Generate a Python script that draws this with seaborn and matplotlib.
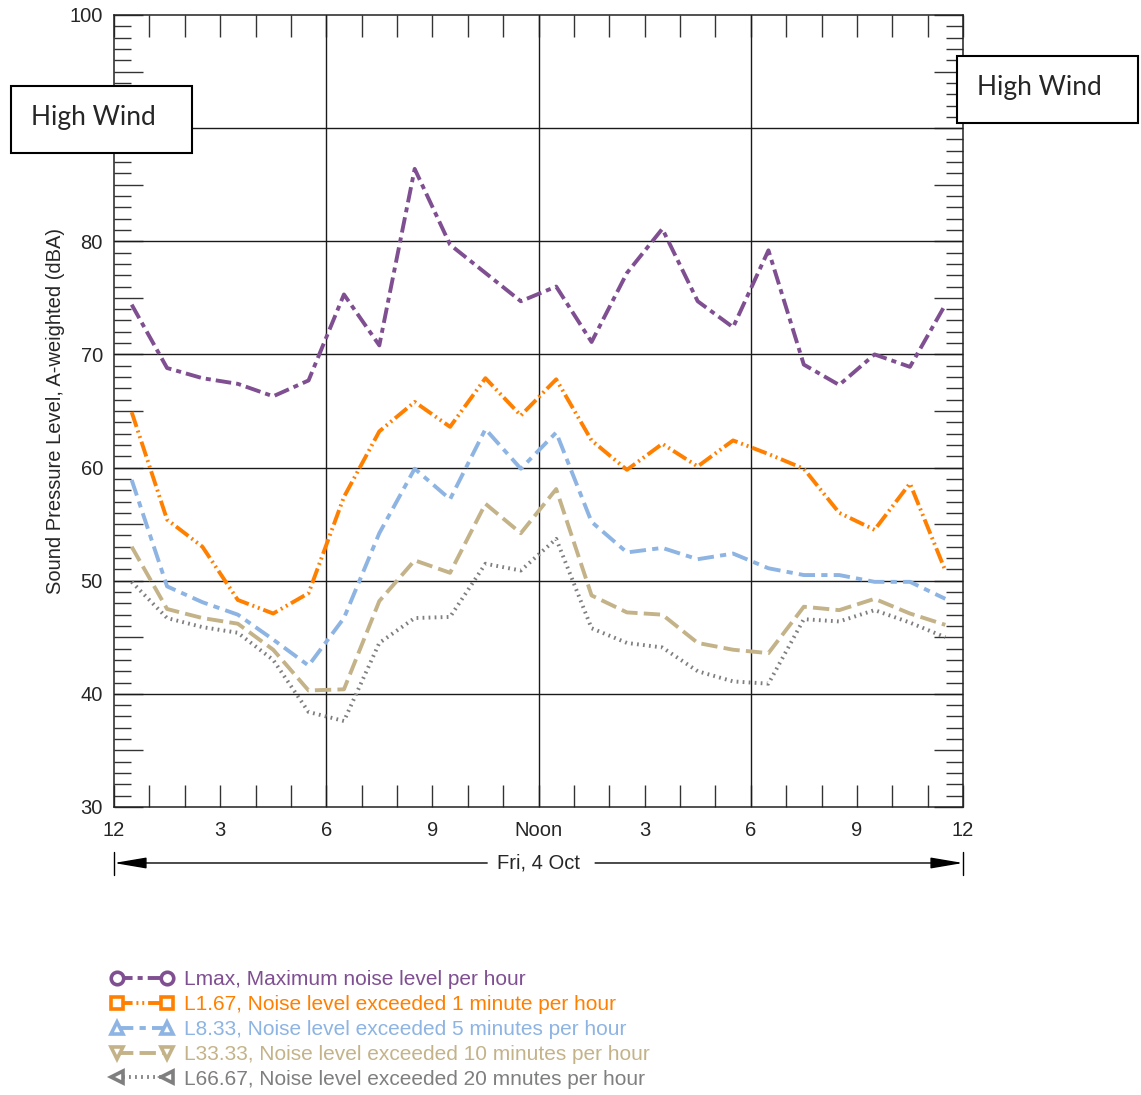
import numpy as np
import pandas as pd
import matplotlib
matplotlib.use("Agg")
import matplotlib.pyplot as plt
import matplotlib.transforms as mtransforms
from matplotlib.lines import Line2D
from matplotlib.patches import Rectangle
from matplotlib.ticker import FixedLocator, MultipleLocator, FuncFormatter
import seaborn as sns

# ---------------- data ----------------
hours = [0.5, 1.5, 2.5, 3.5, 4.5, 5.5, 6.5, 7.5, 8.5, 9.5, 10.5, 11.5,
         12.5, 13.5, 14.5, 15.5, 16.5, 17.5, 18.5, 19.5, 20.5, 21.5, 22.5, 23.5]

lmax = [74.4, 68.8, 67.9, 67.4, 66.3, 67.7, 75.3, 70.8, 86.4, 79.7, 77.2, 74.7,
        76.0, 71.1, 77.2, 81.1, 74.7, 72.4, 79.2, 69.1, 67.3, 70.0, 68.9, 74.4]
l1_67 = [64.9, 55.4, 53.0, 48.3, 47.1, 48.9, 57.4, 63.2, 65.8, 63.6, 67.9, 64.6,
         67.8, 62.4, 59.8, 62.1, 60.1, 62.4, 61.2, 59.9, 56.0, 54.5, 58.6, 50.9]
l8_33 = [58.9, 49.5, 48.1, 47.0, 44.8, 42.5, 46.7, 54.2, 59.9, 57.2, 63.4, 59.9,
         63.1, 55.2, 52.5, 52.9, 51.9, 52.4, 51.1, 50.5, 50.5, 49.9, 49.9, 48.4]
l33_33 = [53.0, 47.5, 46.7, 46.2, 43.9, 40.3, 40.4, 48.2, 51.8, 50.7, 56.8, 54.2,
          58.1, 48.7, 47.2, 47.0, 44.5, 43.9, 43.6, 47.7, 47.4, 48.4, 47.1, 46.1]
l66_67 = [49.9, 46.7, 45.9, 45.4, 43.0, 38.4, 37.6, 44.5, 46.7, 46.8, 51.5, 50.9,
          53.7, 45.8, 44.5, 44.1, 42.0, 41.1, 40.9, 46.6, 46.4, 47.4, 46.3, 45.0]

series_names = ["Lmax, Maximum noise level per hour",
                "L1.67, Noise level exceeded 1 minute per hour",
                "L8.33, Noise level exceeded 5 minutes per hour",
                "L33.33, Noise level exceeded 10 minutes per hour",
                "L66.67, Noise level exceeded 20 mnutes per hour"]
series_values = [lmax, l1_67, l8_33, l33_33, l66_67]

x_tick_pos = [0, 3, 6, 9, 12, 15, 18, 21, 24]
x_tick_labels = ["12", "3", "6", "9", "Noon", "3", "6", "9", "12"]
date_label = "Fri, 4 Oct"
box_text = "High Wind"

# ---------------- style ----------------
colors = ["#7f4f91", "#ff8000", "#8db4e2", "#c4b389", "#7f7f7f"]
dash_list = [(4.0, 1.3, 1.3, 1.3),
             (4.0, 1.0, 0.5, 1.0, 0.5, 1.0),
             (4.2, 1.6, 1.6, 1.6),
             (4.2, 1.6),
             (0.45, 1.1)]
marker_list = ["o", "s", "^", "v", "<"]
LW = 2.8

df = pd.concat([pd.DataFrame({"hour": hours, "level": vals, "series": name})
                for name, vals in zip(series_names, series_values)],
               ignore_index=True)

sns.set_style("ticks")
plt.rcParams["font.family"] = ["Liberation Sans", "DejaVu Sans"]

W, H = 1141, 1095
fig = plt.figure(figsize=(W / 100, H / 100), dpi=100)
ax = fig.add_axes([114 / W, 1 - 807 / H, (963 - 114) / W, (807 - 15) / H])

sns.lineplot(data=df, x="hour", y="level", hue="series", style="series",
             palette=dict(zip(series_names, colors)),
             dashes=dict(zip(series_names, dash_list)),
             linewidth=LW, legend=False, ax=ax, zorder=3)

ax.set_xlim(0, 24)
ax.set_ylim(30, 100)

# grid lines
for yv in [40, 50, 60, 70, 80, 90]:
    ax.axhline(yv, color="#1a1a1a", lw=1.0, zorder=1)
for xv in [6, 12, 18]:
    ax.axvline(xv, color="#1a1a1a", lw=1.0, zorder=1)

for s in ax.spines.values():
    s.set_visible(True)
    s.set_color("#222222")
    s.set_linewidth(1.1)

# x ticks
ax.xaxis.set_major_locator(FixedLocator(x_tick_pos))
ax.set_xticklabels(x_tick_labels)
ax.xaxis.set_minor_locator(MultipleLocator(1))
ax.tick_params(axis="x", which="both", direction="in", top=True, bottom=True,
               length=16, width=1.0, color="#333333", pad=10, labelsize=14.5)

# y ticks (the 90 label is hidden behind the "High Wind" box in the original)
ax.yaxis.set_major_locator(MultipleLocator(5))
ax.yaxis.set_major_formatter(
    FuncFormatter(lambda v, p: f"{int(v)}" if int(v) % 10 == 0 and int(v) != 90 else ""))
ax.yaxis.set_minor_locator(MultipleLocator(1))
ax.tick_params(axis="y", which="major", direction="in", left=True, right=True,
               length=21, width=1.0, color="#333333", pad=8, labelsize=14.5)
ax.tick_params(axis="y", which="minor", direction="in", left=True, right=True,
               length=12, width=1.0, color="#333333")

ax.set_xlabel("")
ax.set_ylabel("Sound Pressure Level, A-weighted (dBA)", fontsize=14.5, labelpad=3)

# date arrow below axis
trans = mtransforms.blended_transform_factory(ax.transData, ax.transAxes)
ya = -0.0707
astyle = "-|>,head_length=1.0,head_width=0.17"
ax.annotate("", xy=(0, ya), xytext=(10.55, ya), xycoords=trans, textcoords=trans,
            arrowprops=dict(arrowstyle=astyle, color="black", lw=1.0,
                            shrinkA=0, shrinkB=0, mutation_scale=20),
            annotation_clip=False)
ax.annotate("", xy=(24, ya), xytext=(13.6, ya), xycoords=trans, textcoords=trans,
            arrowprops=dict(arrowstyle=astyle, color="black", lw=1.0,
                            shrinkA=0, shrinkB=0, mutation_scale=20),
            annotation_clip=False)
for xe in [0, 24]:
    ax.plot([xe, xe], [-0.0568, -0.0859], transform=trans, color="black",
            lw=1.0, clip_on=False)
ax.text(12, ya, date_label, transform=trans, ha="center", va="center", fontsize=14.5)

# High Wind boxes
for (x0, y0, x1, y1) in [(11, 86, 192, 153), (957, 56, 1138, 123)]:
    fig.add_artist(Rectangle((x0 / W, 1 - y1 / H), (x1 - x0) / W, (y1 - y0) / H,
                             transform=fig.transFigure, facecolor="white",
                             edgecolor="black", lw=1.5, zorder=5))
    fig.text(((x0 + x1) / 2 - 8.5) / W, 1 - ((y0 + y1) / 2 - 2) / H, box_text,
             ha="center", va="center", fontsize=19, family=["Lato", "DejaVu Sans"],
             zorder=6)

# legend
handles = [Line2D([], [], color=c, lw=LW, dashes=d, marker=m, markersize=9,
                  markerfacecolor="white", markeredgecolor=c, markeredgewidth=2.6)
           for c, d, m in zip(colors, dash_list, marker_list)]
leg = fig.legend(handles, series_names, loc="upper left",
                 bbox_to_anchor=(100 / W, 1 - 960 / H), frameon=False,
                 numpoints=2, handlelength=3.0, handletextpad=0.55,
                 labelspacing=0.28, borderpad=0, fontsize=15,
                 labelcolor="linecolor")

fig.savefig("out.png", dpi=100)
